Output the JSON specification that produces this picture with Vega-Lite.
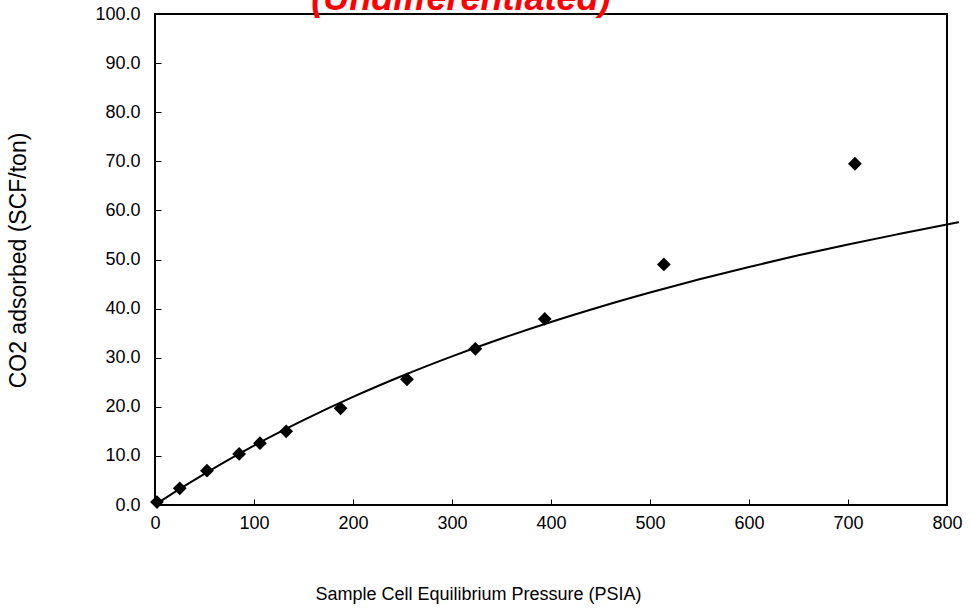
{
  "$schema": "https://vega.github.io/schema/vega-lite/v6.json",
  "width": 792,
  "height": 491,
  "autosize": {"type": "none"},
  "padding": {"left": 155, "top": 14, "right": 25, "bottom": 108},
  "background": "white",
  "config": {
    "view": {"stroke": "#000000", "strokeWidth": 2},
    "font": "Liberation Sans"
  },
  "datasets": {
    "measured": [
      {"pressure": 2, "adsorbed": 0.6},
      {"pressure": 25, "adsorbed": 3.4},
      {"pressure": 52.5, "adsorbed": 7.0},
      {"pressure": 85, "adsorbed": 10.4},
      {"pressure": 106, "adsorbed": 12.6},
      {"pressure": 132.5, "adsorbed": 15.0},
      {"pressure": 187.5, "adsorbed": 19.7},
      {"pressure": 254.5, "adsorbed": 25.6},
      {"pressure": 323.6, "adsorbed": 31.8},
      {"pressure": 393.7, "adsorbed": 37.9},
      {"pressure": 514, "adsorbed": 49.0},
      {"pressure": 707, "adsorbed": 69.5}
    ],
    "fit": [
      {"pressure": 0, "adsorbed": 0},
      {"pressure": 25, "adsorbed": 3.27},
      {"pressure": 50, "adsorbed": 6.36},
      {"pressure": 75, "adsorbed": 9.3},
      {"pressure": 100, "adsorbed": 12.1},
      {"pressure": 150, "adsorbed": 17.28},
      {"pressure": 200, "adsorbed": 22.01},
      {"pressure": 250, "adsorbed": 26.32},
      {"pressure": 300, "adsorbed": 30.27},
      {"pressure": 350, "adsorbed": 33.91},
      {"pressure": 400, "adsorbed": 37.28},
      {"pressure": 450, "adsorbed": 40.39},
      {"pressure": 500, "adsorbed": 43.28},
      {"pressure": 550, "adsorbed": 45.98},
      {"pressure": 600, "adsorbed": 48.49},
      {"pressure": 650, "adsorbed": 50.85},
      {"pressure": 700, "adsorbed": 53.06},
      {"pressure": 750, "adsorbed": 55.13},
      {"pressure": 812, "adsorbed": 57.6}
    ],
    "heading": [
      {"label": "(Undifferentiated)", "pressure": 309, "adsorbed": 100.8}
    ]
  },
  "layer": [
    {
      "data": {"name": "fit"},
      "mark": {"type": "line", "color": "#000000", "strokeWidth": 2, "clip": false, "interpolate": "monotone"},
      "encoding": {
        "x": {
          "field": "pressure", "type": "quantitative",
          "scale": {"domain": [0, 800], "nice": false, "zero": true},
          "axis": {
            "title": "Sample Cell Equilibrium Pressure (PSIA)",
            "values": [0, 100, 200, 300, 400, 500, 600, 700, 800],
            "format": "d",
            "grid": false,
            "domain": false,
            "tickColor": "#000000",
            "tickSize": -6,
            "tickWidth": 1,
            "labelPadding": 15,
            "labelFontSize": 18,
            "labelFont": "Liberation Sans",
            "labelColor": "#000000",
            "labelFlush": false,
            "titleFontSize": 18,
            "titleFont": "Liberation Sans",
            "titleFontWeight": "normal",
            "titleColor": "#000000",
            "titleX": 323,
            "titleY": 89,
            "titleBaseline": "middle",
            "titleAnchor": "middle"
          }
        },
        "y": {
          "field": "adsorbed", "type": "quantitative",
          "scale": {"domain": [0, 100], "nice": false},
          "axis": {
            "title": "CO2 adsorbed (SCF/ton)",
            "values": [0, 10, 20, 30, 40, 50, 60, 70, 80, 90, 100],
            "format": ".1f",
            "grid": false,
            "domain": false,
            "tickColor": "#000000",
            "tickSize": -6,
            "tickWidth": 1,
            "labelPadding": 21,
            "labelFontSize": 18,
            "labelFont": "Liberation Sans",
            "labelColor": "#000000",
            "labelFlush": false,
            "titleFontSize": 23,
            "titleFont": "Liberation Sans",
            "titleFontWeight": "normal",
            "titleColor": "#000000",
            "titleAngle": -90,
            "titleX": -137,
            "titleY": 246,
            "titleBaseline": "middle",
            "titleAnchor": "middle"
          }
        }
      }
    },
    {
      "data": {"name": "measured"},
      "mark": {"type": "point", "shape": "diamond", "filled": true, "color": "#000000", "opacity": 1, "size": 190, "clip": false},
      "encoding": {
        "x": {"field": "pressure", "type": "quantitative"},
        "y": {"field": "adsorbed", "type": "quantitative"}
      }
    },
    {
      "data": {"name": "heading"},
      "mark": {"type": "text", "color": "#ff0000", "font": "Liberation Sans", "fontSize": 36, "fontWeight": "bold", "fontStyle": "italic", "align": "center", "baseline": "alphabetic", "clip": false},
      "encoding": {
        "x": {"field": "pressure", "type": "quantitative"},
        "y": {"field": "adsorbed", "type": "quantitative"},
        "text": {"field": "label", "type": "nominal"}
      }
    }
  ]
}
